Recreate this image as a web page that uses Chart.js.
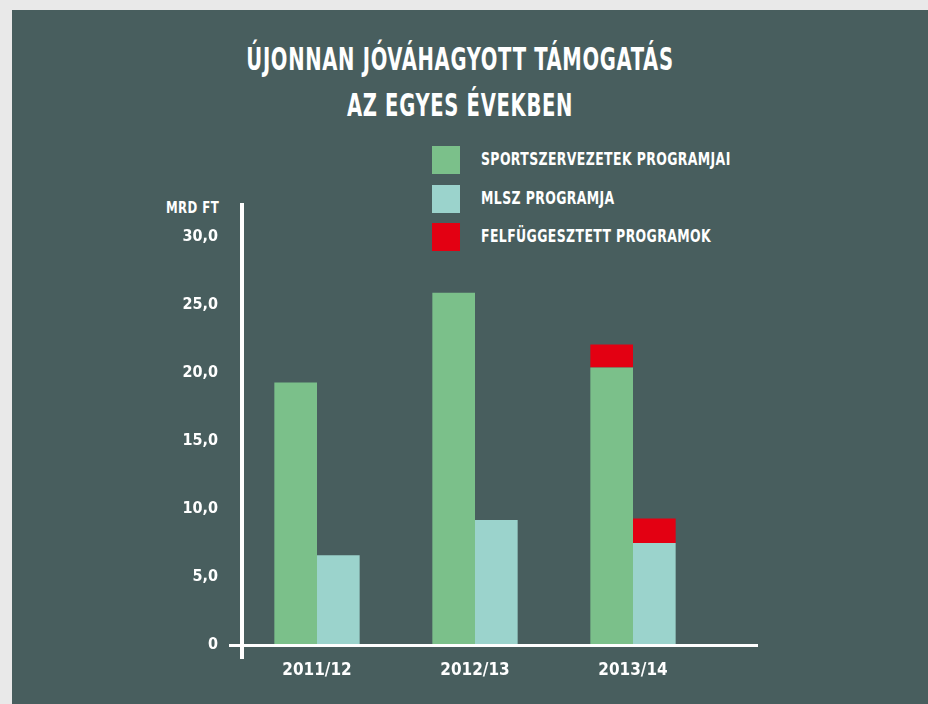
<!DOCTYPE html>
<html>
<head>
<meta charset="utf-8">
<script src="https://cdn.jsdelivr.net/npm/chart.js@4.4.1/dist/chart.umd.min.js"></script>
<style>
  html, body { margin: 0; padding: 0; }
  body { width: 928px; height: 704px; background: #e9e9e9; position: relative; overflow: hidden;
         font-family: "DejaVu Sans Condensed", "DejaVu Sans", sans-serif; font-weight: bold; color: #fff; }
  #panel { position: absolute; left: 12px; top: 10px; right: 0; bottom: 0; background: #485e5e; }
  #wrap { position: absolute; left: 0; top: 0; width: 928px; height: 704px; }
  .title { position: absolute; left: 60px; width: 800px; text-align: center; font-size: 32px; letter-spacing: 1px;
           transform: scaleX(0.68); transform-origin: 50% 0; white-space: nowrap; line-height: 1; }
  .leg { position: absolute; left: 432px; height: 28px; }
  .leg span.box { position: absolute; left: 0; top: 0; width: 28px; height: 28px; }
  .leg span.txt { position: absolute; left: 49px; top: 4px; font-size: 18px; white-space: nowrap; letter-spacing: 0.5px;
                  transform: scaleX(0.77); transform-origin: 0 0; line-height: 1; }
  #unit { position: absolute; left: 166px; top: 201px; font-size: 15px; letter-spacing: 0.5px; line-height: 1;
          transform: scaleX(0.87); transform-origin: 0 0; white-space: nowrap; }
</style>
</head>
<body>
<div id="panel"></div>
<div class="title" style="top:43px">ÚJONNAN JÓVÁHAGYOTT TÁMOGATÁS</div>
<div class="title" style="top:89px">AZ EGYES ÉVEKBEN</div>
<div id="legend"></div>
<div id="unit">MRD FT</div>
<div id="wrap"><canvas id="myChart" width="928" height="704"></canvas></div>
<script>
const years = ['2011/12', '2012/13', '2013/14'];
const sportValues = [19.3, 25.9, 20.4];
const mlszValues = [6.6, 9.2, 7.5];
const suspendedSport = [null, null, 1.7];
const suspendedMlsz = [null, null, 1.8];
const yTicks = [0, 5, 10, 15, 20, 25, 30];

const green = '#7bc08a';
const teal = '#9bd3cc';
const red = '#e30012';
const tickFont = '"DejaVu Sans Condensed", "DejaVu Sans", sans-serif';

const legendItems = [
  ['SPORTSZERVEZETEK PROGRAMJAI', green],
  ['MLSZ PROGRAMJA', teal],
  ['FELFÜGGESZTETT PROGRAMOK', red]
];
const legendBox = document.getElementById('legend');
legendItems.forEach((item, i) => {
  const row = document.createElement('div');
  row.className = 'leg';
  row.style.top = (146 + i * 38.5) + 'px';
  row.innerHTML = '<span class="box" style="background:' + item[1] + '"></span><span class="txt">' + item[0] + '</span>';
  legendBox.appendChild(row);
});

// white axis lines, drawn a bit past the plot area like the original
const axisLines = {
  id: 'axisLines',
  afterDatasetsDraw(chart) {
    const c = chart.ctx;
    const area = chart.chartArea;
    const y0 = chart.scales.y.getPixelForValue(0);
    c.save();
    c.fillStyle = '#ffffff';
    c.fillRect(area.left + 2, area.top - 34, 4, area.bottom - area.top + 48);
    c.fillRect(area.left - 9, y0 - 1, area.right - area.left + 55, 3);
    c.restore();
  }
};

const ctx = document.getElementById('myChart').getContext('2d');
const myChart = new Chart(ctx, {
  type: 'bar',
  data: {
    labels: years,
    datasets: [
      { label: 'Sportszervezetek programjai', data: sportValues, backgroundColor: green, stack: 'a' },
      { label: 'MLSZ programja', data: mlszValues, backgroundColor: teal, stack: 'b' },
      { label: 'Felfüggesztett programok', data: suspendedSport, backgroundColor: red, stack: 'a' },
      { label: 'Felfüggesztett programok (MLSZ)', data: suspendedMlsz, backgroundColor: red, stack: 'b' }
    ]
  },
  options: {
    responsive: false,
    animation: false,
    layout: { padding: { left: 0, top: 237, right: 216, bottom: 0 } },
    datasets: { bar: { categoryPercentage: 0.54, barPercentage: 1.0, borderWidth: 0 } },
    plugins: { legend: { display: false }, title: { display: false }, tooltip: { enabled: false } },
    scales: {
      x: {
        stacked: true,
        grid: { display: false, drawTicks: false },
        border: { display: false },
        ticks: { color: '#fff', padding: 15, font: { family: tickFont, size: 17, weight: 'bold' } },
        afterFit(scale) { scale.height = 59; }
      },
      y: {
        stacked: true,
        min: 0,
        max: 30,
        afterBuildTicks(scale) { scale.ticks = yTicks.map(v => ({ value: v })); },
        grid: { display: false, drawTicks: false },
        border: { display: false },
        ticks: {
          color: '#fff',
          padding: 20,
          font: { family: tickFont, size: 16, weight: 'bold' },
          callback: v => v === 0 ? '0' : v.toFixed(1).replace('.', ',')
        },
        afterFit(scale) { scale.width = 238; }
      }
    }
  },
  plugins: [axisLines]
});
</script>
</body>
</html>
